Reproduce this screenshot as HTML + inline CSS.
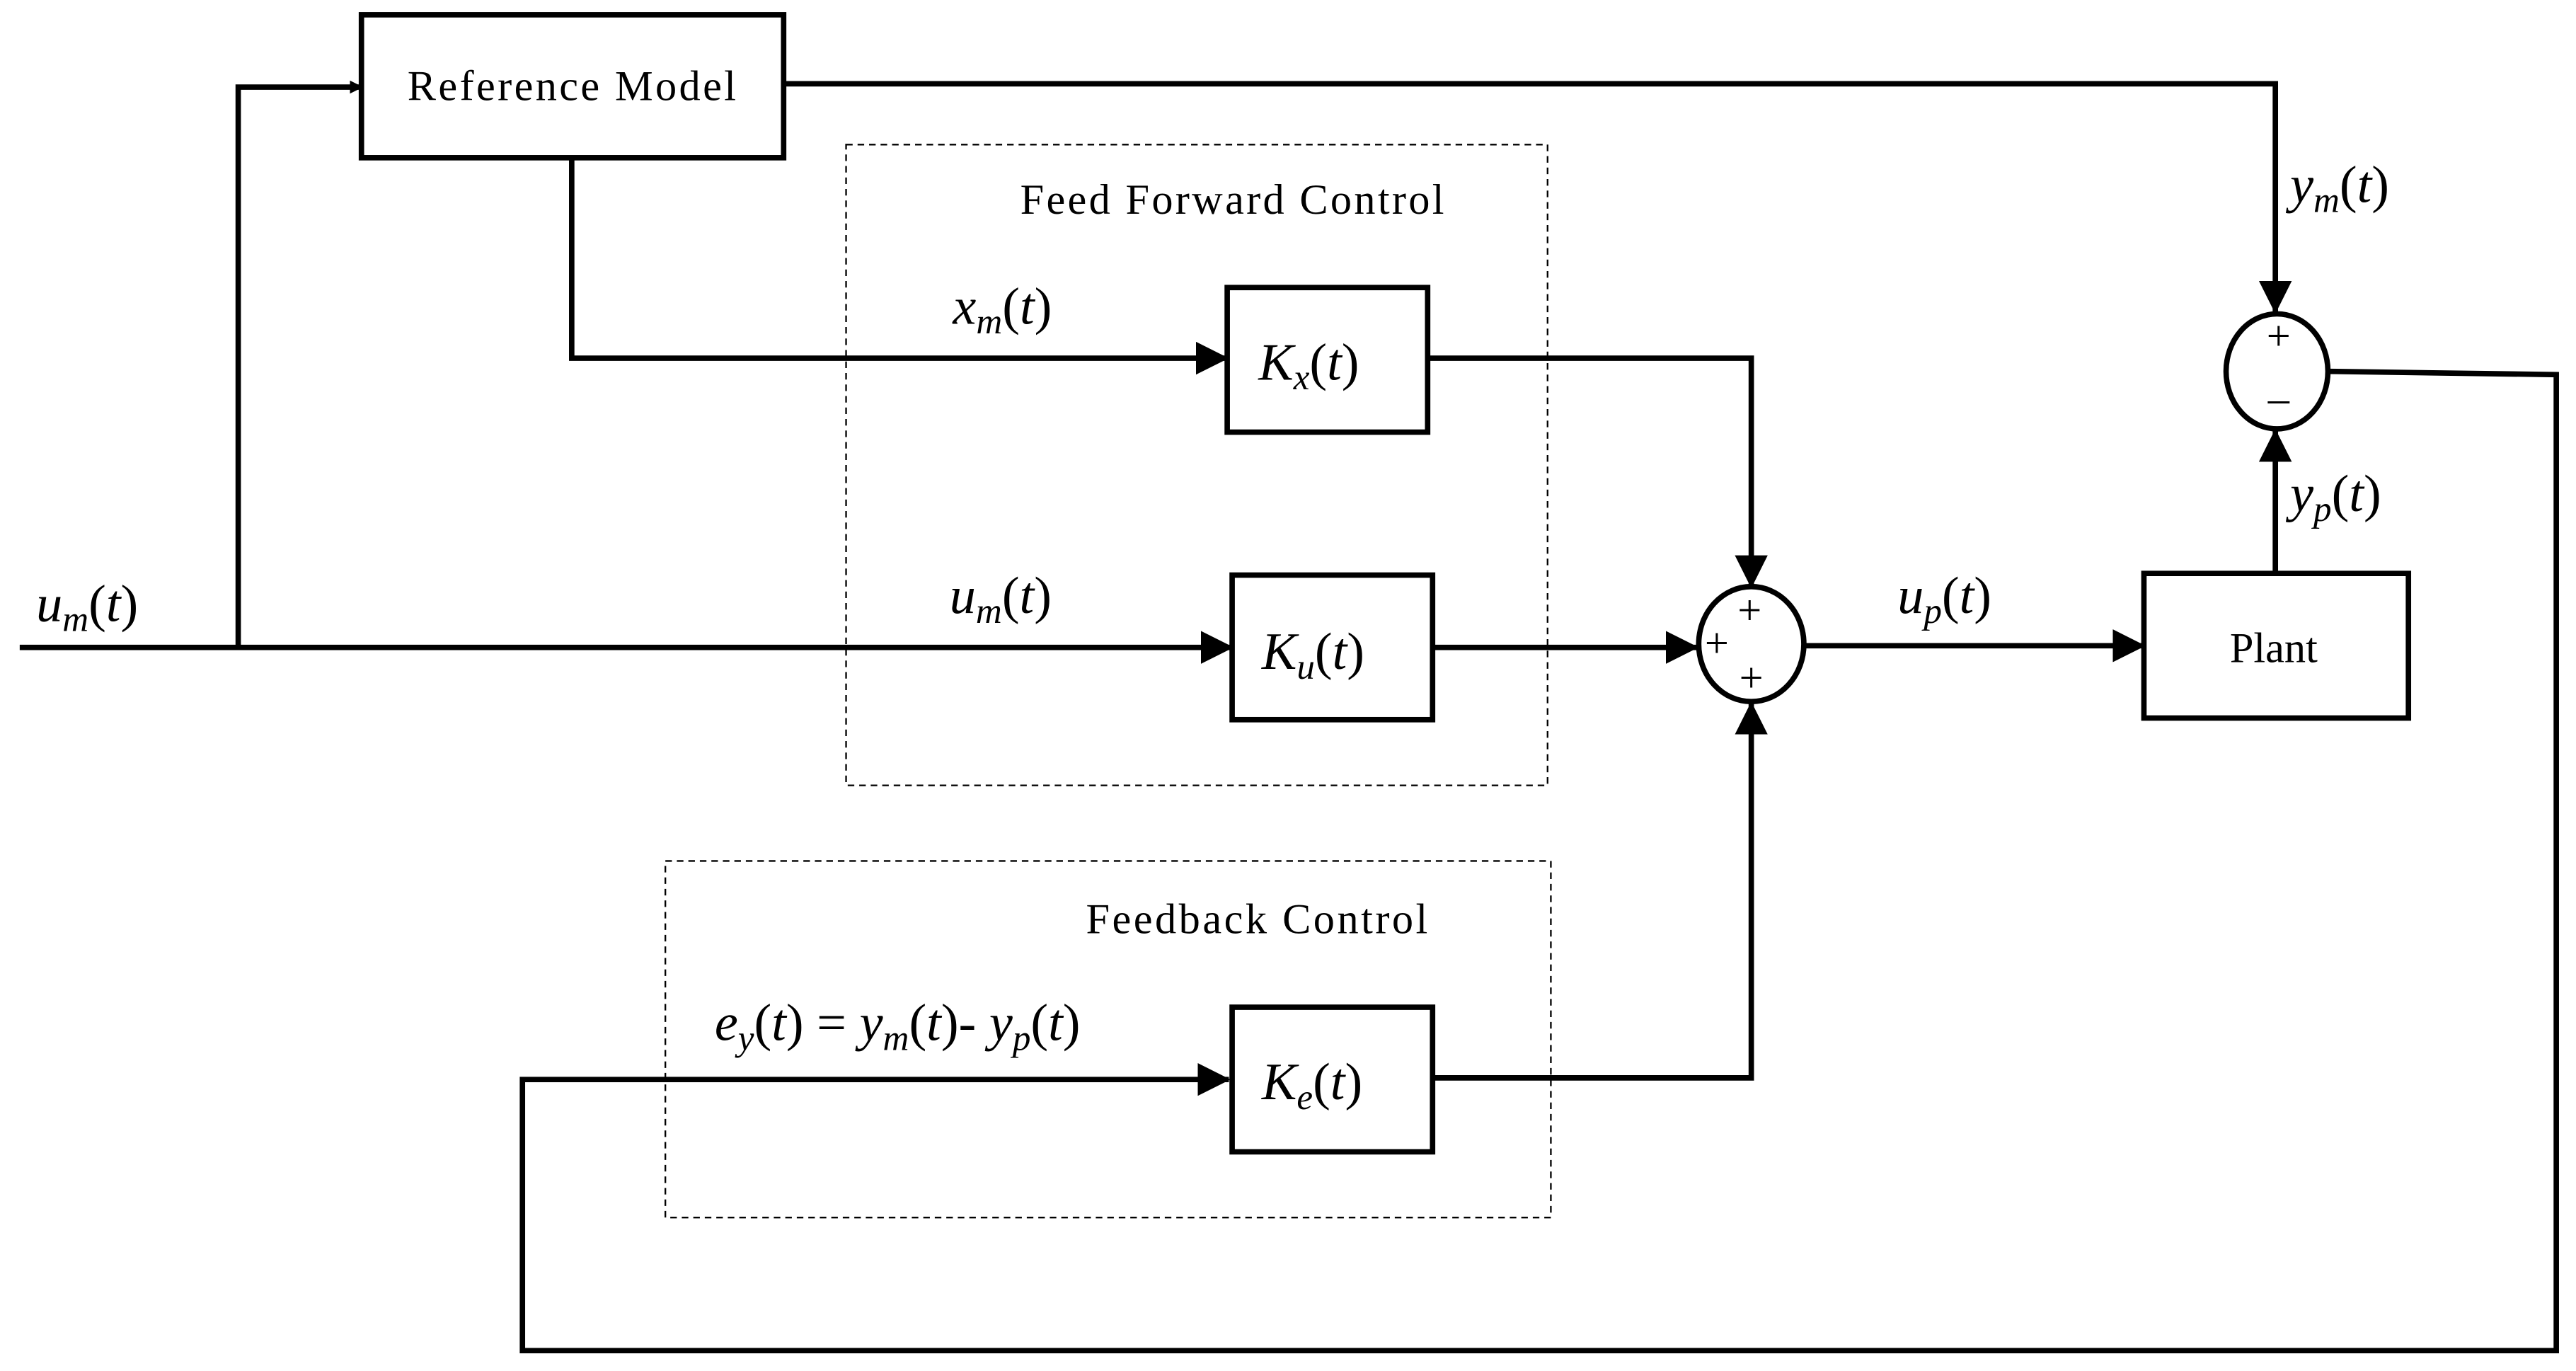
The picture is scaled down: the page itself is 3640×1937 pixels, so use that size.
<!DOCTYPE html>
<html><head><meta charset="utf-8"><style>
html,body{margin:0;padding:0;background:#fff;}
svg{display:block;}
text{font-family:"Liberation Serif",serif;fill:#000;}
.m{font-style:italic;font-size:32px;}
.s{font-style:italic;font-size:22px;}
.u{font-style:normal;}
</style></head><body>
<svg width="3640" height="1937" viewBox="0 0 1568 834.4" preserveAspectRatio="none" xmlns="http://www.w3.org/2000/svg">
<defs>
<marker id="a" markerWidth="8" markerHeight="8" refX="7" refY="4" orient="auto" markerUnits="userSpaceOnUse" viewBox="0 0 8 8"><path d="M0,0 L8,4 L0,8 z"/></marker>
<marker id="A" markerWidth="20" markerHeight="20" refX="19" refY="10" orient="auto" markerUnits="userSpaceOnUse" viewBox="0 0 20 20"><path d="M0,0 L20,10 L0,20 z"/></marker>
</defs>
<g fill="none" stroke="#000">
<rect x="515" y="88" width="427" height="390" stroke-width="1" stroke-dasharray="4,3"/>
<rect x="405" y="524" width="539" height="217" stroke-width="1" stroke-dasharray="4,3"/>
<g stroke-width="3.3">
<rect x="220" y="9" width="257" height="87"/>
<rect x="747" y="175" width="122" height="88"/>
<rect x="750" y="350" width="122" height="88"/>
<rect x="750" y="613" width="122" height="88"/>
<rect x="1305" y="349" width="161" height="88"/>
<ellipse cx="1066" cy="392" rx="32" ry="35"/>
<ellipse cx="1386" cy="226" rx="31" ry="35"/>
<path d="M12,394 H750" marker-end="url(#A)"/>
<path d="M145,394 V53 H220" marker-end="url(#a)"/>
<path d="M477,51 H1385 V190" marker-end="url(#A)"/>
<path d="M348,96 V218 H747" marker-end="url(#A)"/>
<path d="M869,218 H1066 V357" marker-end="url(#A)"/>
<path d="M872,394 H1033" marker-end="url(#A)"/>
<path d="M872,656 H1066 V428" marker-end="url(#A)"/>
<path d="M1098,393 H1305" marker-end="url(#A)"/>
<path d="M1385,349 V262" marker-end="url(#A)"/>
<path d="M1417,226 L1556,228 V822 H318 V657 H748" marker-end="url(#A)"/>
</g>
</g>
<text x="348" y="61" font-size="26" text-anchor="middle" textLength="200">Reference  Model</text>
<text x="750" y="130" font-size="26" text-anchor="middle" textLength="258">Feed Forward Control</text>
<text x="765" y="568" font-size="26" text-anchor="middle" textLength="208">Feedback  Control</text>
<text x="1384" y="403" font-size="26" text-anchor="middle">Plant</text>
<text x="1065" y="380" font-size="26" text-anchor="middle">+</text>
<text x="1045" y="400" font-size="26" text-anchor="middle">+</text>
<text x="1066" y="421" font-size="26" text-anchor="middle">+</text>
<text x="1387" y="213" font-size="26" text-anchor="middle">+</text>
<text x="1387" y="251" font-size="26" text-anchor="middle">–</text>
<text x="22" y="378" class="m">u<tspan class="s" dy="6">m</tspan><tspan dy="-6" class="u">(</tspan>t<tspan class="u">)</tspan></text>
<text x="580" y="197" class="m">x<tspan class="s" dy="6">m</tspan><tspan dy="-6" class="u">(</tspan>t<tspan class="u">)</tspan></text>
<text x="578" y="373" class="m">u<tspan class="s" dy="6">m</tspan><tspan dy="-6" class="u">(</tspan>t<tspan class="u">)</tspan></text>
<text x="1155" y="373" class="m">u<tspan class="s" dy="6">p</tspan><tspan dy="-6" class="u">(</tspan>t<tspan class="u">)</tspan></text>
<text x="1394" y="123" class="m">y<tspan class="s" dy="6">m</tspan><tspan dy="-6" class="u">(</tspan>t<tspan class="u">)</tspan></text>
<text x="1394" y="311" class="m">y<tspan class="s" dy="6">p</tspan><tspan dy="-6" class="u">(</tspan>t<tspan class="u">)</tspan></text>
<text x="766" y="231" class="m">K<tspan class="s" dy="6">x</tspan><tspan dy="-6" class="u">(</tspan>t<tspan class="u">)</tspan></text>
<text x="768" y="407" class="m">K<tspan class="s" dy="6">u</tspan><tspan dy="-6" class="u">(</tspan>t<tspan class="u">)</tspan></text>
<text x="768" y="669" class="m">K<tspan class="s" dy="6">e</tspan><tspan dy="-6" class="u">(</tspan>t<tspan class="u">)</tspan></text>
<text x="435" y="633" class="m">e<tspan class="s" dy="6">y</tspan><tspan dy="-6" class="u">(</tspan>t<tspan class="u">) = </tspan>y<tspan class="s" dy="6">m</tspan><tspan dy="-6" class="u">(</tspan>t<tspan class="u">)- </tspan>y<tspan class="s" dy="6">p</tspan><tspan dy="-6" class="u">(</tspan>t<tspan class="u">)</tspan></text>
</svg>
</body></html>
